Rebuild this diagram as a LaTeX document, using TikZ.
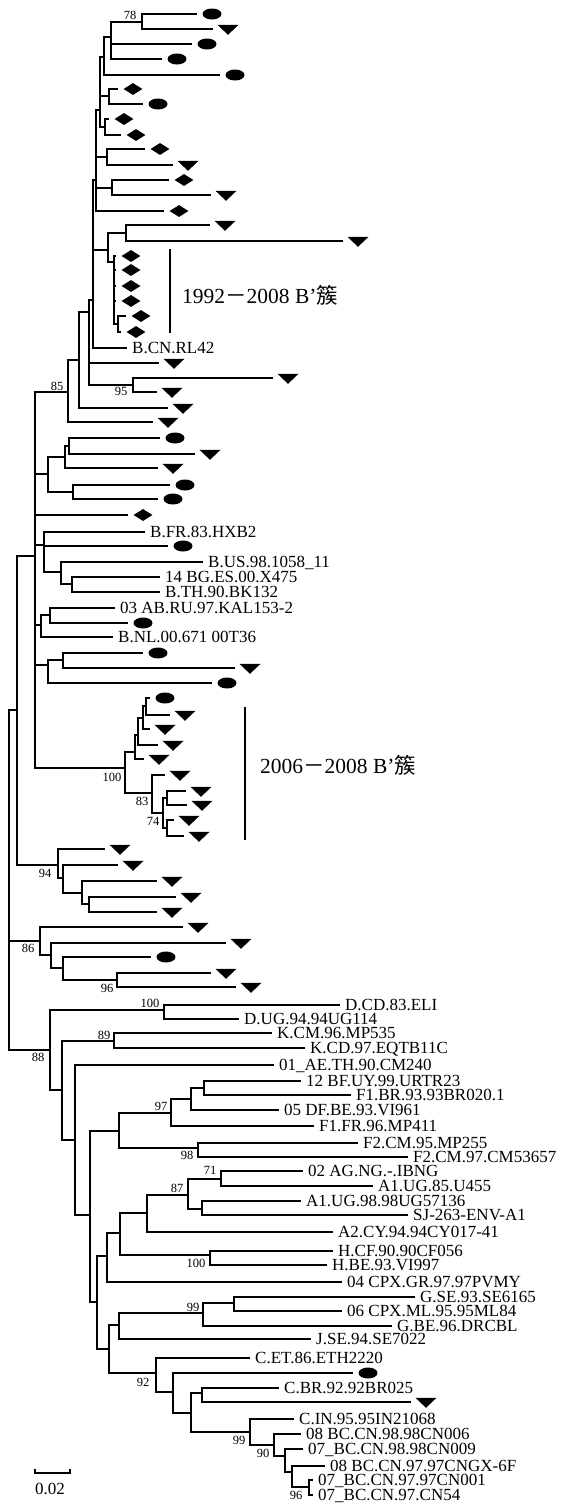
\documentclass[tikz,border=0pt]{standalone}
\usepackage{fontspec}
\setmainfont{Liberation Serif}
\newfontfamily\cjk{Noto Sans CJK SC}
\usetikzlibrary{positioning, shapes.geometric}

\begin{document}
\begin{tikzpicture}[
  x=1pt, y=-1pt,
  limb/.style={line width=1.7pt},
  ovalmark/.style={ellipse, fill, inner sep=0pt, minimum width=19pt, minimum height=11pt},
  trimark/.style={isosceles triangle, isosceles triangle stretches, shape border rotate=270, fill, inner sep=0pt, minimum width=21pt, minimum height=10pt},
  diamark/.style={diamond, fill, inner sep=0pt, minimum width=19pt, minimum height=12pt},
  taxon/.style={inner sep=0pt, font=\fontsize{17}{17}\selectfont, text height=11pt, text depth=0pt},
  boot/.style={inner sep=0pt, font=\fontsize{12.5}{12.5}\selectfont},
  clade/.style={inner sep=0pt, anchor=west, font=\fontsize{21.5}{22}\selectfont}
]
\useasboundingbox (0,0) rectangle (578,1507);

\foreach \n/\x/\y in {n78/142/22, nA/111/37, nB/104/57, nC/109/96, nD/105/127, nE/107/157, nF/112/188,
  nMa/100/110, nMb/96/180, nJ/126/233, nK/114/262, nKb/118/324, nL/108/250, nN/93/300, nH/89/312,
  n95/133/385, nG/79/360, n85/68/392, nO/69/446, nP/65/457, nQ/73/492, nR/48/474, nT/44/545,
  nTb/61/572, nTc/72/584, nU/50/615, nV/41/625, nW/63/660, nX/48/665, nWa/146/706, nWb/143/718,
  nWc/138/735, nWd/135/752, nXa/167/798, nXb/167/828, n74/163/813, n83/152/793, n100/125/768,
  nSp/35/556, nY3/89/904, nY2/82/893, nY1/63/878, n94/58/865, nR1/17/710, n96/117/980, nZ2/63/968,
  nZ1/51/955, n86/40/941, root/9/880, nDD/164/1010, nKK/114/1041, nF1/204/1088, nF2/191/1099,
  n97/171/1113, n98/198/1148, nFF/119/1131, n71/221/1179, nAb/202/1209, n87/188/1195, nAA/147/1213,
  nHH/210/1255, n120/120/1233, n107/107/1256, nGG/234/1303, n99/203/1313, n119/119/1325,
  nCB/202/1393, nC6/292/1472, n96b/309/1487, nC5/285/1456, n90/274/1445, n99b/250/1432,
  nC4/191/1413, nC3/173/1392, n92/156/1373, n109/109/1349, n97c/97/1302, n90a/90/1215,
  n75/75/1140, n62/62/1090, n88/50/1050}
  \coordinate (\n) at (\x,\y);

\foreach \n/\x/\y/\s in {a1/197/14/ovalmark, a2/213/29/trimark, a3/192/44/ovalmark, a4/162/59/ovalmark,
  a5/220/75/ovalmark, a6/118/89/diamark, a7/143/104/ovalmark, a8/109/119/diamark, a9/121/135/diamark,
  a10/145/149/diamark, a11/173/165/trimark, a12/169/180/diamark, a13/211/195/trimark,
  a14/164/211/diamark, a15/210/225/trimark, a16/343/241/trimark, d1/116/256/diamark,
  d2/116/270/diamark, d3/116/286/diamark, d4/116/301/diamark, d5/126/316/diamark, d6/121/332/diamark,
  b1/159/363/trimark, b2/273/378/trimark, b3/157/392/trimark, b4/168/408/trimark, b5/153/422/trimark,
  c1/160/438/ovalmark, c2/195/454/trimark, c3/158/468/trimark, c4/170/485/ovalmark, c5/158/499/ovalmark,
  e1/128/515/diamark, e2/168/546/ovalmark, e3/128/623/ovalmark, e4/143/653/ovalmark, e5/235/668/trimark,
  e6/212/683/ovalmark, f1/150/698/ovalmark, f2/170/715/trimark, f3/150/729/trimark, f4/158/745/trimark,
  f5/144/759/trimark, g1/165/775/trimark, g2/186/791/trimark, g3/187/805/trimark, g4/174/820/trimark,
  g5/184/836/trimark, h1/105/849/trimark, h2/118/865/trimark, h3/157/881/trimark, h4/176/897/trimark,
  h5/157/912/trimark, i1/183/927/trimark, i2/226/943/trimark, i3/151/957/ovalmark, i4/211/973/trimark,
  i5/236/987/trimark, j1/353/1373/ovalmark, j2/411/1402/trimark}
  {\coordinate (\n) at (\x,\y); \node[\s, xshift=15pt] (m\n) at (\n) {};}

\foreach \n/\x/\y/\s in {rl42/127/348/B.CN.RL42, hxb2/145/532/B.FR.83.HXB2, us98/203/562/B.US.98.1058\_11,
  x475/160/577/14 BG.ES.00.X475, bk132/160/592/B.TH.90.BK132, kal/115/608/03 AB.RU.97.KAL153-2,
  nl00/113/637/B.NL.00.671 00T36, eli/340/1005/D.CD.83.ELI, ug114/239/1019/D.UG.94.94UG114,
  mp535/272/1033/K.CM.96.MP535, eqtb/305/1048/K.CD.97.EQTB11C, cm240/274/1065/01\_AE.TH.90.CM240,
  urtr/301/1081/12 BF.UY.99.URTR23, br020/351/1095/F1.BR.93.93BR020.1, vi961/279/1110/05 DF.BE.93.VI961,
  mp411/314/1126/F1.FR.96.MP411, mp255/358/1143/F2.CM.95.MP255, cm536/408/1157/F2.CM.97.CM53657,
  ibng/303/1171/02 AG.NG.-.IBNG, u455/373/1186/A1.UG.85.U455, ug571/301/1201/A1.UG.98.98UG57136,
  sj263/408/1215/SJ-263-ENV-A1, cy017/333/1232/A2.CY.94.94CY017-41, cf056/333/1251/H.CF.90.90CF056,
  vi997/327/1265/H.BE.93.VI997, pvmy/342/1282/04 CPX.GR.97.97PVMY, se6165/415/1297/G.SE.93.SE6165,
  ml84/342/1311/06 CPX.ML.95.95ML84, drcbl/392/1326/G.BE.96.DRCBL, se7022/311/1339/J.SE.94.SE7022,
  eth/250/1358/C.ET.86.ETH2220, br025/279/1388/C.BR.92.92BR025, in21/294/1419/C.IN.95.95IN21068,
  cn006/301/1434/08 BC.CN.98.98CN006, cn009/303/1449/07\_BC.CN.98.98CN009,
  gx6f/325/1466/08 BC.CN.97.97CNGX-6F, cn001/313/1480/07\_BC.CN.97.97CN001,
  cn54/313/1495/07\_BC.CN.97.CN54}
  {\coordinate (\n) at (\x,\y); \node[taxon, right=5pt of \n] (l\n) {\s};}

\foreach \p/\c in {n78/a1, n78/a2, nA/n78, nA/a3, nA/a4, nB/nA, nB/a5, nC/a6, nC/a7, nD/a8, nD/a9,
  nE/a10, nE/a11, nF/a12, nF/a13, nMa/nB, nMa/nC, nMa/nD, nMb/nMa, nMb/nE, nMb/nF, nMb/a14,
  nJ/a15, nJ/a16, nK/d1, nK/d2, nK/d3, nK/d4, nK/nKb, nKb/d5, nKb/d6, nL/nJ, nL/nK,
  nN/nMb, nN/nL, nN/rl42, n95/b2, n95/b3, nH/nN, nH/b1, nH/n95, nG/nH, nG/b4, n85/nG, n85/b5,
  nO/c1, nO/c2, nP/nO, nP/c3, nQ/c4, nQ/c5, nR/nP, nR/nQ, nTc/x475, nTc/bk132, nTb/us98, nTb/nTc,
  nT/hxb2, nT/e2, nT/nTb, nU/kal, nU/e3, nV/nU, nV/nl00, nW/e4, nW/e5, nX/nW, nX/e6,
  nWa/f1, nWa/f2, nWb/nWa, nWb/f3, nWc/nWb, nWc/f4, nWd/nWc, nWd/f5, nXa/g2, nXa/g3, nXb/g4, nXb/g5,
  n74/nXa, n74/nXb, n83/g1, n83/n74, n100/nWd, n100/n83, nSp/n85, nSp/nR, nSp/e1, nSp/nT, nSp/nV,
  nSp/nX, nSp/n100, nY3/h4, nY3/h5, nY2/h3, nY2/nY3, nY1/h2, nY1/nY2, n94/h1, n94/nY1,
  nR1/nSp, nR1/n94, n96/i4, n96/i5, nZ2/i3, nZ2/n96, nZ1/i2, nZ1/nZ2, n86/i1, n86/nZ1,
  nDD/eli, nDD/ug114, nKK/mp535, nKK/eqtb, nF1/urtr, nF1/br020, nF2/nF1, nF2/vi961, n97/nF2, n97/mp411,
  n98/mp255, n98/cm536, nFF/n97, nFF/n98, n71/ibng, n71/u455, nAb/ug571, nAb/sj263, n87/n71, n87/nAb,
  nAA/n87, nAA/cy017, nHH/cf056, nHH/vi997, n120/nAA, n120/nHH, n107/n120, n107/pvmy,
  nGG/se6165, nGG/ml84, n99/nGG, n99/drcbl, n119/n99, n119/se7022, nCB/br025, nCB/j2,
  n96b/cn001, n96b/cn54, nC6/gx6f, nC6/n96b, nC5/cn009, nC5/nC6, n90/cn006, n90/nC5,
  n99b/in21, n99b/n90, nC4/nCB, nC4/n99b, nC3/j1, nC3/nC4, n92/eth, n92/nC3, n109/n119, n109/n92,
  n97c/n107, n97c/n109, n90a/nFF, n90a/n97c, n75/cm240, n75/n90a, n62/nKK, n62/n75, n88/nDD, n88/n62,
  root/nR1, root/n86, root/n88}
  \draw[limb] (\p) |- (\c);

\foreach \n/\x/\y/\v in {s78/130/15/78, s85/57/386/85, s95/121/391/95, s100a/112/777/100, s83/142/801/83,
  s74/153/821/74, s94/45/873/94, s86/28/948/86, s96a/107/988/96, s100b/150/1003/100, s88/38/1057/88,
  s89/104/1035/89, s97/161/1106/97, s98/187/1155/98, s71/210/1170/71, s87/177/1188/87,
  s100c/196/1263/100, s99a/193/1307/99, s92/143/1382/92, s99b/239/1440/99, s90/263/1453/90,
  s96b/296/1495/96}
  \node[boot] (\n) at (\x,\y) {\v};

\coordinate (bar1t) at (170,249);
\coordinate (bar1b) at (170,333);
\coordinate (bar2t) at (245,707);
\coordinate (bar2b) at (245,840);
\draw[limb] (bar1t) -- (bar1b);
\draw[limb] (bar2t) -- (bar2b);
\node[clade] (lab1) at (182,295) {1992{\cjk －}2008 B'{\cjk 簇}};
\node[clade] (lab2) at (260,765) {2006{\cjk －}2008 B'{\cjk 簇}};

\coordinate (sbl) at (35,1473);
\coordinate (sbr) at (70,1473);
\draw[limb] ([yshift=4pt]sbl) -- (sbl) -- (sbr) -- ([yshift=4pt]sbr);
\node[taxon, font=\fontsize{17}{17}\selectfont] (sblab) at (50,1489) {0.02};
\end{tikzpicture}
\end{document}
